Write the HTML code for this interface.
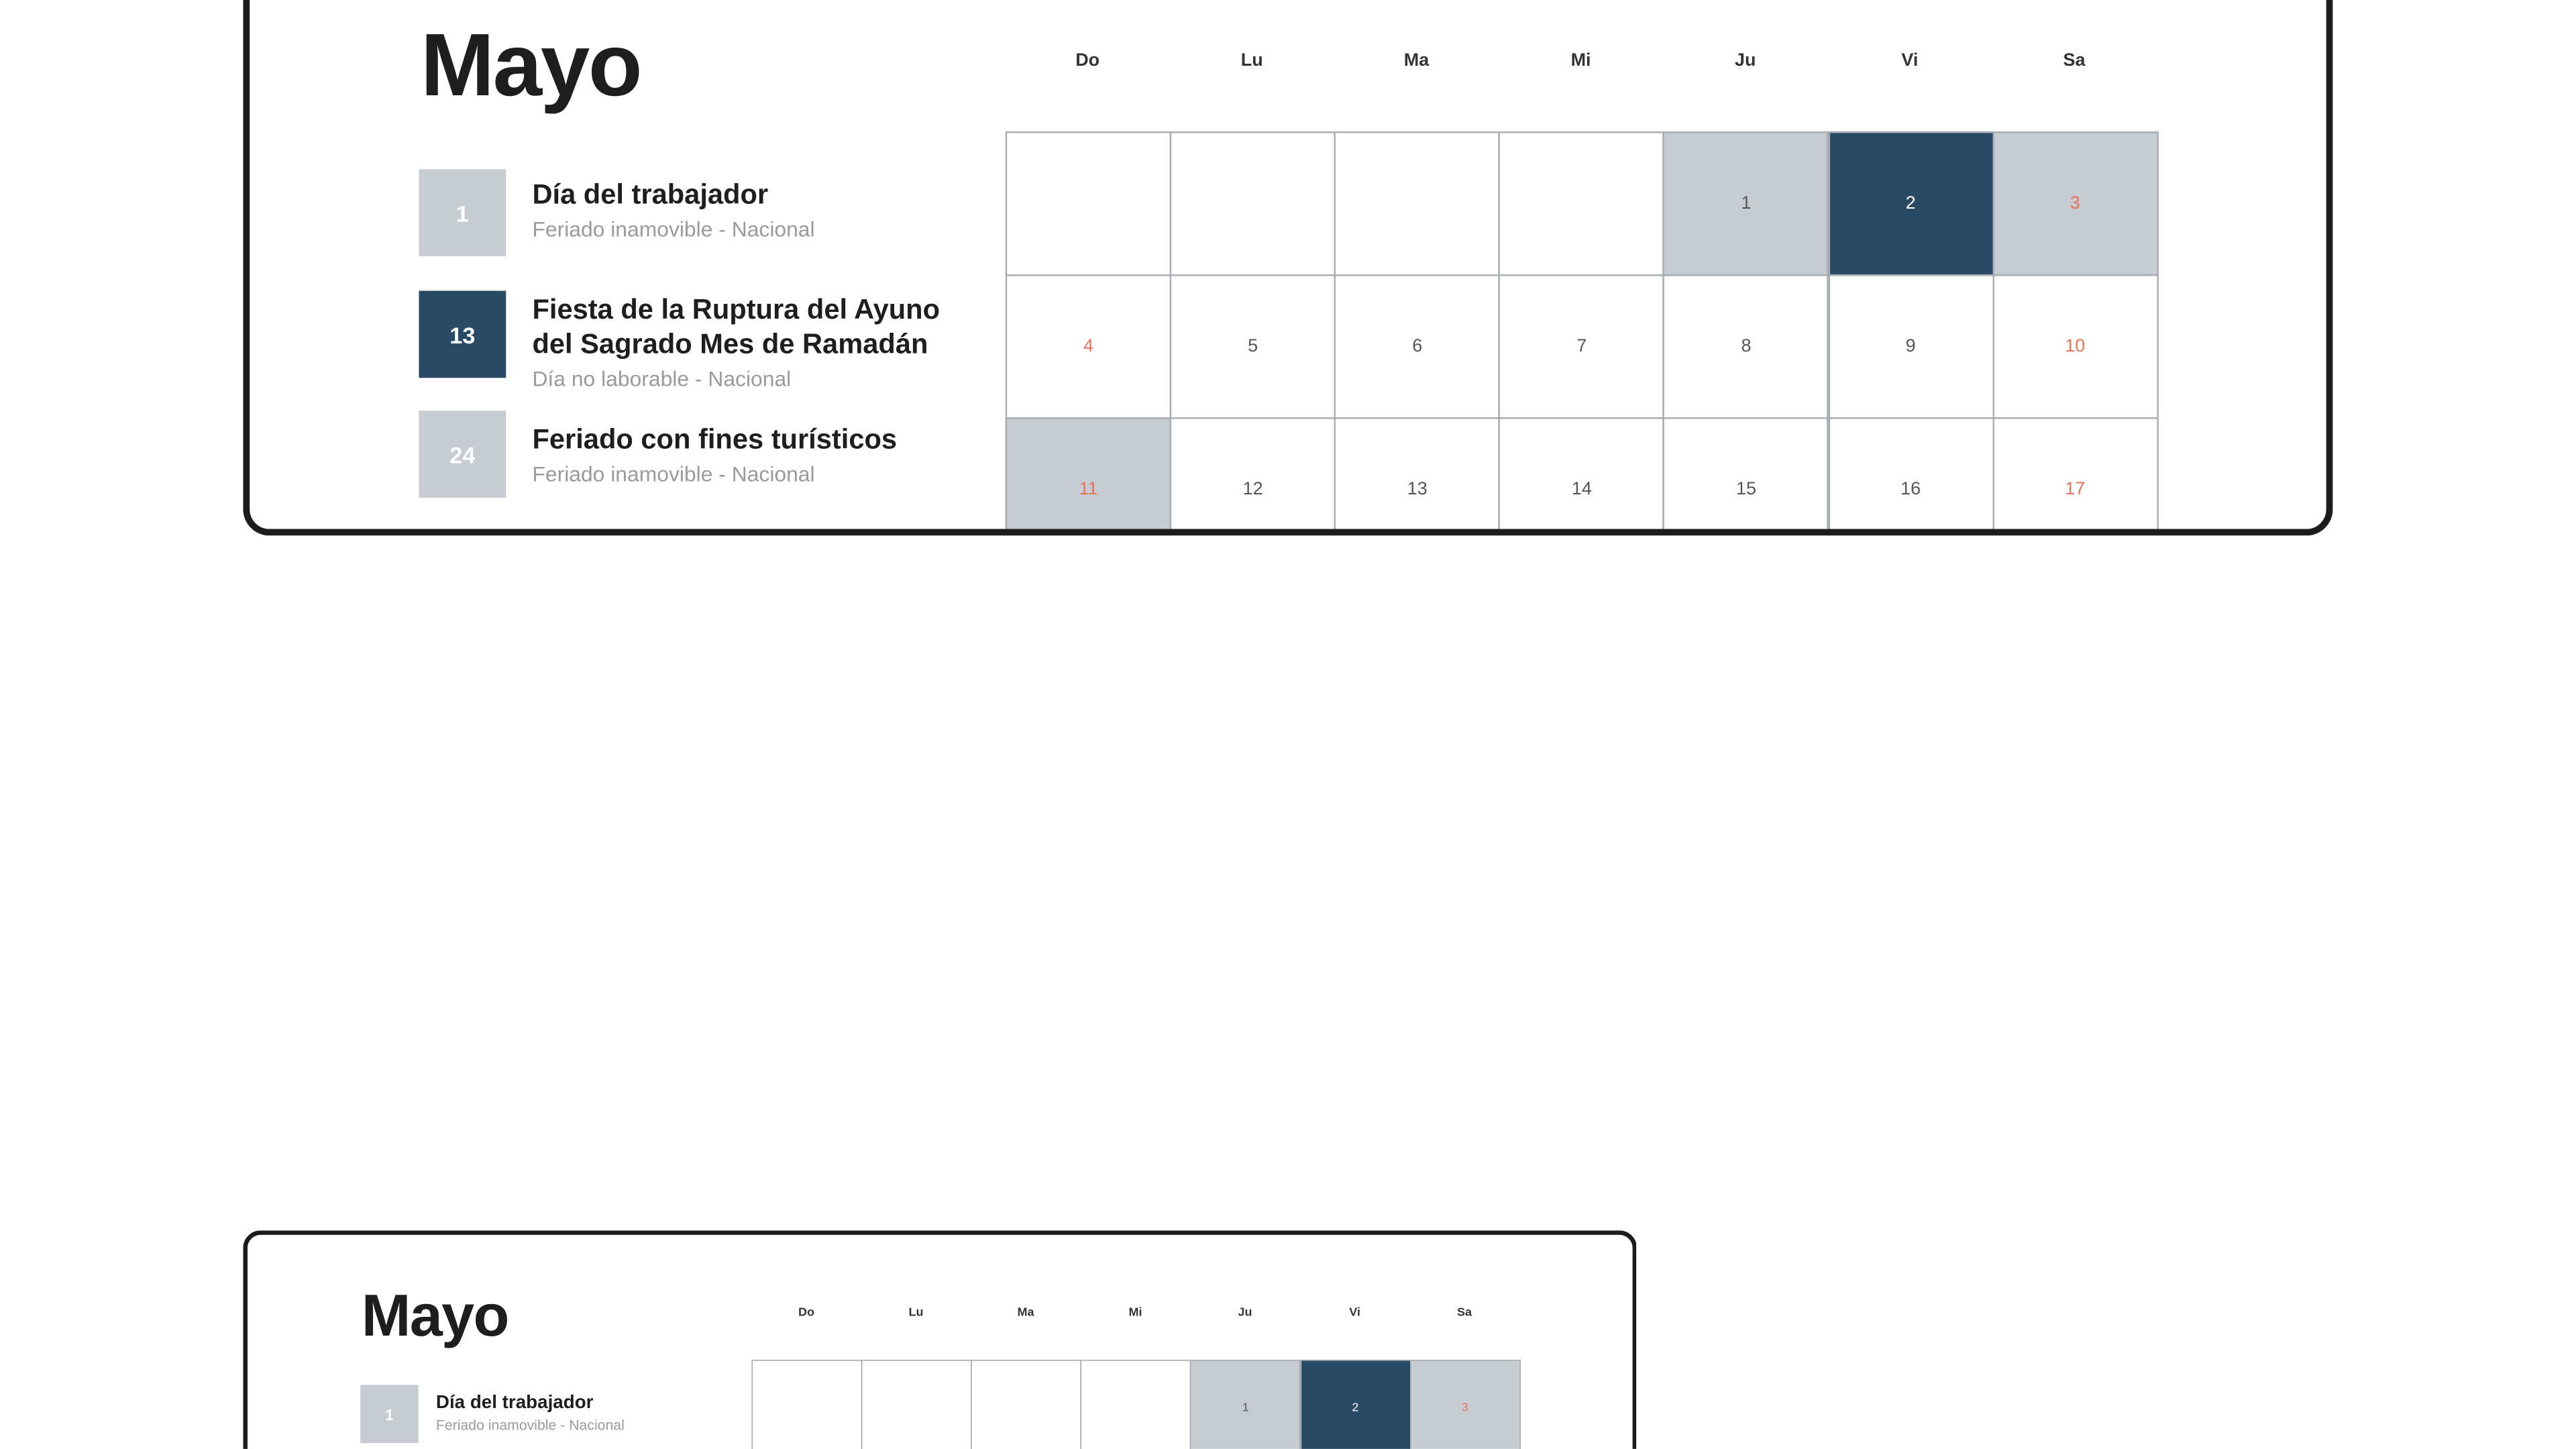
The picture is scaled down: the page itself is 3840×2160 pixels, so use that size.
<!DOCTYPE html>
<html><head><meta charset="utf-8">
<style>
html,body{margin:0;padding:0;background:#fff;width:3840px;height:2160px;overflow:hidden;}
#stage{position:absolute;left:0;top:0;width:1568px;height:882px;transform:scale(2.4489);transform-origin:0 0;overflow:hidden;font-family:"Liberation Sans",sans-serif;}
.clip{position:absolute;overflow:hidden;}
.frame{position:absolute;left:0;top:0;width:1272px;height:364px;box-sizing:border-box;border:4px solid #1c1c1c;border-radius:16px;overflow:hidden;background:#fff;transform-origin:0 0;}
.mayo{position:absolute;left:104px;top:39px;font-size:54px;font-weight:bold;color:#1e1e1e;line-height:70px;letter-spacing:-1px;}
.dh{position:absolute;top:65px;width:100px;text-align:center;font-size:11px;font-weight:bold;color:#333;}
.cell{position:absolute;box-sizing:border-box;border:1px solid #a9adb3;display:flex;align-items:center;justify-content:center;font-size:11px;color:#555;}
.box{position:absolute;left:103px;width:53px;height:53px;display:flex;align-items:center;justify-content:center;color:#fff;font-size:14px;font-weight:bold;}
.t{position:absolute;left:172px;font-size:17px;font-weight:bold;color:#1e1e1e;line-height:21px;}
.s{position:absolute;left:172px;font-size:13px;color:#9a9a9a;}
</style></head><body>
<div id="stage"></div>
<script>
const dayHeaders=["Do","Lu","Ma","Mi","Ju","Vi","Sa"];
const startOffset=4;
const dayNumbers=[1,2,3,4,5,6,7,8,9,10,11,12,13,14,15,16,17];
const grayDays=[1,3,11];
const navyDays=[2];
const holidays=[
 {n:"1",kind:"gray",title:["Día del trabajador"],sub:"Feriado inamovible - Nacional"},
 {n:"13",kind:"navy",title:["Fiesta de la Ruptura del Ayuno","del Sagrado Mes de Ramadán"],sub:"Día no laborable - Nacional"},
 {n:"24",kind:"gray",title:["Feriado con fines turísticos"],sub:"Feriado inamovible - Nacional"}
];
const GRAY="#c7cbd2",NAVY="#284a64",RED="#e5735c";
const colX=i=>460+i*100.1, rowY=r=>114+r*87;
function build(left,top,scale,name,clipH){
 const w=document.createElement('div');w.className='clip';
 
 
 w.style.left=left+'px';w.style.top=top+'px';w.style.width=(1272*scale)+'px';w.style.height=clipH+'px';
 const f=document.createElement('div');f.className='frame';
 
 
 f.style.transform='scale('+scale+')';
 if(top<0){f.style.top=top+'px';w.style.top='0px';}
 const m=document.createElement('div');m.className='mayo';m.textContent='Mayo';
 
 
 f.appendChild(m);
 dayHeaders.forEach((d,i)=>{const e=document.createElement('div');e.className='dh';e.textContent=d;e.style.left=colX(i)+'px';
  
  
  f.appendChild(e);});
 const total=Math.ceil((startOffset+dayNumbers.length)/7)*7;
 for(let k=0;k<total;k++){
  const c=k%7,r=Math.floor(k/7);const d=k-startOffset<dayNumbers.length&&k>=startOffset?dayNumbers[k-startOffset]:null;
  const e=document.createElement('div');e.className='cell';
  
  
  e.style.left=colX(c)+'px';e.style.top=rowY(r)+'px';e.style.width='101.1px';e.style.height='88px';
  if(d!==null){e.textContent=d;
   if(grayDays.includes(d))e.style.background=GRAY;
   if(navyDays.includes(d)){e.style.background=NAVY;e.style.color='#fff';}
   if((c===0||c===6)&&!navyDays.includes(d))e.style.color=RED;}
  f.appendChild(e);}
 const boxTops=[137,211,284];
 const titleTops=[142,212,291];
 const subTops=[166,257,315];
 holidays.forEach((h,i)=>{
  const b=document.createElement('div');b.className='box';b.textContent=h.n;b.style.top=boxTops[i]+'px';
  b.style.background=h.kind==='navy'?NAVY:GRAY;
  
  
  f.appendChild(b);
  const t=document.createElement('div');t.className='t';t.innerHTML=h.title.join('<br>');
  t.style.top=titleTops[i]+'px';
  
  
  f.appendChild(t);
  const s=document.createElement('div');s.className='s';s.textContent=h.sub;
  s.style.top=subTops[i]+'px';
  
  
  f.appendChild(s);
 });
 w.appendChild(f);
 document.getElementById('stage').appendChild(w);
}
build(148,-38,1,'calendar-card-large',326);
build(148,749,0.667,'calendar-card-small',133);
</script>
</body></html>
